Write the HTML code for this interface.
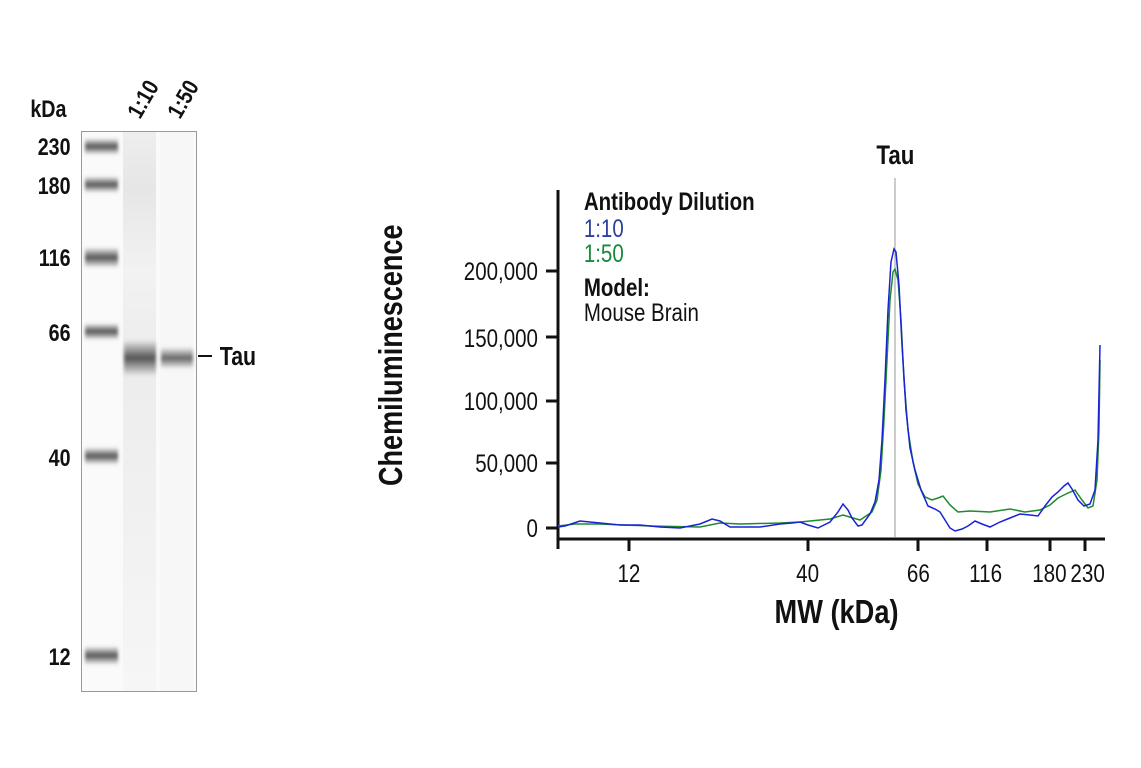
<!DOCTYPE html>
<html><head><meta charset="utf-8"><style>
html,body{margin:0;padding:0;background:#fff;}
svg{display:block;font-family:"Liberation Sans",sans-serif;}
</style></head><body>
<svg width="1141" height="768" viewBox="0 0 1141 768" xmlns="http://www.w3.org/2000/svg">
<defs>
<linearGradient id="lad" x1="0" y1="0" x2="0" y2="1">
<stop offset="0" stop-color="#555" stop-opacity="0"/><stop offset="0.5" stop-color="#555" stop-opacity="1"/><stop offset="1" stop-color="#555" stop-opacity="0"/>
</linearGradient>
<linearGradient id="l1" x1="0" y1="0" x2="0" y2="1">
<stop offset="0" stop-color="#eee"/><stop offset="0.1" stop-color="#e6e6e6"/><stop offset="0.25" stop-color="#f2f2f2"/><stop offset="0.4" stop-color="#ececec"/><stop offset="1" stop-color="#f6f6f6"/>
</linearGradient>
<filter id="bl"><feGaussianBlur stdDeviation="1.5"/></filter>
</defs>
<!-- gel -->
<rect x="81.5" y="131.5" width="115" height="560" fill="#fafafa" stroke="#999"/>
<rect x="123" y="132" width="33" height="559" fill="url(#l1)"/>
<rect x="160" y="132" width="33" height="559" fill="#f7f7f7"/>
<g filter="url(#bl)">
<rect x="85" y="138" width="33" height="17" fill="url(#lad)"/>
<rect x="85" y="176" width="33" height="17" fill="url(#lad)"/>
<rect x="85" y="247" width="33" height="21" fill="url(#lad)"/>
<rect x="85" y="323" width="33" height="17" fill="url(#lad)"/>
<rect x="85" y="447" width="33" height="18" fill="url(#lad)"/>
<rect x="85" y="646" width="33" height="19" fill="url(#lad)"/>
<rect x="124" y="340" width="32" height="36" fill="url(#lad)"/>
<rect x="161" y="347" width="32" height="22" fill="url(#lad)" opacity="0.9"/>
</g>
<g font-weight="bold" font-size="24" fill="#111" text-anchor="end">
<g transform="scale(0.82,1)">
<text x="37" y="117" text-anchor="start">kDa</text>
<text x="86" y="155">230</text>
<text x="86" y="194">180</text>
<text x="86" y="266">116</text>
<text x="86" y="341">66</text>
<text x="86" y="466">40</text>
<text x="86" y="665">12</text>
<text x="268" y="365" text-anchor="start" font-size="26">Tau</text>
</g>
</g>
<line x1="198" y1="356" x2="212" y2="356" stroke="#111" stroke-width="2"/>
<g font-weight="bold" font-size="23" fill="#111">
<text transform="translate(140,120) rotate(-60) scale(0.85,1)">1:10</text>
<text transform="translate(180,120) rotate(-60) scale(0.85,1)">1:50</text>
</g>
<!-- chart -->
<text transform="translate(402,486) rotate(-90) scale(0.82,1)" font-size="33" font-weight="bold" fill="#111">Chemiluminescence</text>
<g font-size="25" fill="#111" text-anchor="end">
<g transform="scale(0.82,1)">
<text x="656" y="280">200,000</text>
<text x="656" y="347">150,000</text>
<text x="656" y="410">100,000</text>
<text x="656" y="472">50,000</text>
<text x="656" y="537">0</text>
</g></g>
<g stroke="#111" stroke-width="3">
<line x1="558" y1="190" x2="558" y2="549"/>
<line x1="557" y1="539" x2="1105" y2="539"/>
<line x1="546" y1="271" x2="557" y2="271"/>
<line x1="546" y1="337" x2="557" y2="337"/>
<line x1="546" y1="401" x2="557" y2="401"/>
<line x1="546" y1="463" x2="557" y2="463"/>
<line x1="546" y1="528" x2="557" y2="528"/>
<line x1="629" y1="539" x2="629" y2="551"/>
<line x1="808" y1="539" x2="808" y2="551"/>
<line x1="918" y1="539" x2="918" y2="551"/>
<line x1="987" y1="539" x2="987" y2="551"/>
<line x1="1050" y1="539" x2="1050" y2="551"/>
<line x1="1085" y1="539" x2="1085" y2="551"/>
</g>
<g font-size="25" fill="#111" text-anchor="middle">
<text x="629" y="582" transform="translate(110,0) scale(0.825,1)" >12</text>
<text x="808" y="582" transform="translate(141,0) scale(0.825,1)">40</text>
<text x="918" y="582" transform="translate(161,0) scale(0.825,1)">66</text>
<text x="985" y="582" transform="translate(173,0) scale(0.825,1)">116</text>
<text x="1049" y="582" transform="translate(184,0) scale(0.825,1)">180</text>
<text x="1088" y="582" transform="translate(190,0) scale(0.825,1)">230</text>
</g>
<text x="837" y="623" transform="translate(146,0) scale(0.825,1)" text-anchor="middle" font-size="33" font-weight="bold" fill="#111">MW (kDa)</text>
<line x1="895" y1="178" x2="895" y2="537" stroke="#999" stroke-width="1"/>
<text x="895" y="164" transform="translate(157,0) scale(0.825,1)" text-anchor="middle" font-size="27" font-weight="bold" fill="#111">Tau</text>
<g font-size="25" transform="scale(0.82,1)">
<text x="712" y="210" font-weight="bold" fill="#111">Antibody Dilution</text>
<text x="712" y="237" fill="#2b3f9e">1:10</text>
<text x="712" y="262" fill="#178a3a">1:50</text>
<text x="712" y="296" font-weight="bold" fill="#111">Model:</text>
<text x="712" y="321" fill="#111">Mouse Brain</text>
</g>
<polyline fill="none" stroke="#1f8a2e" stroke-width="1.5" points="558,526 575,524 600,524 650,526 700,527 720,523 740,524 780,523 800,522 830,519 843,515 860,520 872,512 877,500 881,470 884,420 887,360 890,300 893,272 895,269 898,280 901,320 904,380 908,430 913,462 918,484 925,497 932,500 938,498 943,496 950,505 958,512 970,511 990,512 1010,509 1025,512 1040,510 1050,505 1058,498 1068,493 1075,490 1082,500 1088,508 1093,506 1097,480 1099,430 1100,360"/>
<polyline fill="none" stroke="#1a22d6" stroke-width="1.5" points="558,527 565,526 580,521 600,523 620,525 640,525 660,527 680,528 700,524 712,519 720,521 730,527 745,527 760,527 780,524 792,523 800,522 808,525 818,528 830,522 838,512 843,504 848,510 852,518 858,526 862,525 870,514 875,502 879,480 882,440 885,380 888,310 891,262 894,249 896,252 899,285 902,345 906,410 910,448 915,470 921,490 928,506 935,509 940,512 945,520 950,528 955,531 962,529 968,526 975,521 982,524 990,527 1000,522 1010,518 1020,514 1030,515 1038,516 1045,506 1052,497 1058,492 1064,486 1068,483 1072,489 1078,500 1084,506 1090,504 1095,490 1098,440 1100,345"/>
</svg>
</body></html>
